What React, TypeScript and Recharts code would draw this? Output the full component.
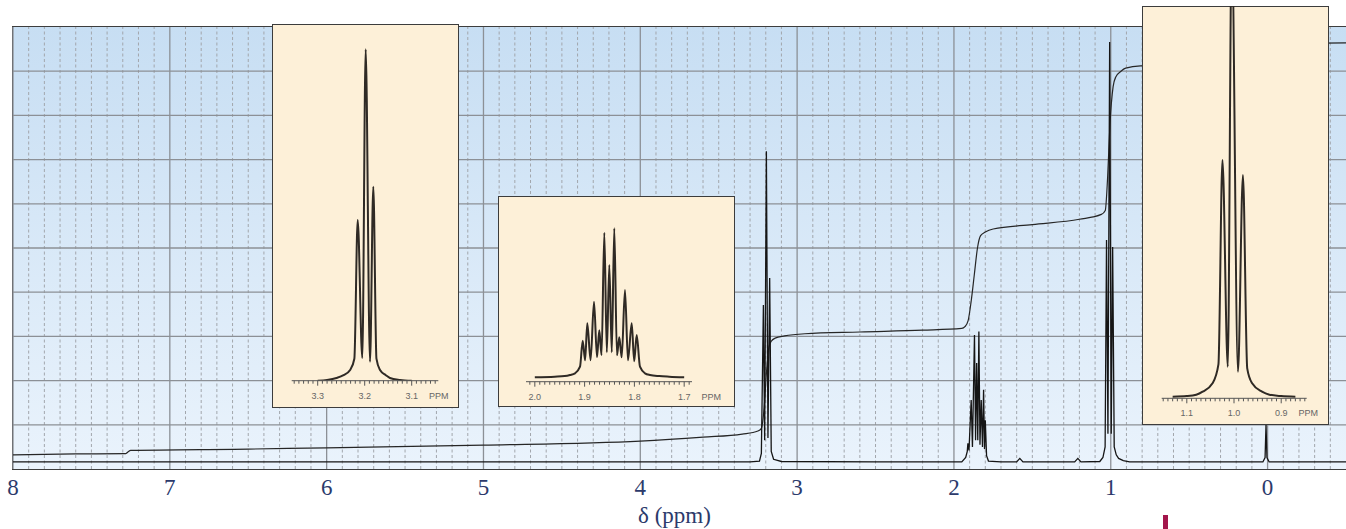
import { Label, Line, LineChart, ReferenceLine, XAxis, YAxis } from "recharts";

// main spectrum: [ppm, intensity], intensity 0..100 = plot height
const spectrum: [number, number][] = [
  [8.0, 1.6], [6.0, 1.6], [4.0, 1.6], [3.3, 1.6], [3.24, 1.8], [3.228, 3.5],
  [3.215, 37.1], [3.207, 6.5], [3.196, 71.9], [3.186, 7], [3.175, 43.2], [3.165, 4],
  [3.15, 2.2], [3.1, 1.7], [2.5, 1.6], [1.95, 1.6], [1.925, 2.6], [1.915, 4],
  [1.911, 5.8], [1.904, 4.2], [1.89, 15.6], [1.882, 5], [1.869, 30.3], [1.862, 6.5],
  [1.855, 24], [1.848, 6.5], [1.841, 31.1], [1.834, 5.5], [1.826, 15.6], [1.818, 5],
  [1.811, 17.9], [1.805, 4.5], [1.8, 11], [1.792, 3], [1.78, 1.8], [1.7, 1.6],
  [1.6, 1.6], [1.58, 2.4], [1.56, 1.6], [1.23, 1.6], [1.21, 2.4], [1.19, 1.6],
  [1.07, 1.7], [1.05, 2.6], [1.036, 5], [1.027, 51.8], [1.018, 8], [1.007, 96.6],
  [0.997, 8], [0.988, 50.2], [0.978, 5], [0.965, 3.2], [0.95, 2.4], [0.92, 1.9],
  [0.88, 1.6], [0.03, 1.6], [0.016, 2.6], [0.01, 10], [0.004, 2.6], [-0.01, 1.6],
  [-0.5, 1.6],
];

// integral trace
const integral: [number, number][] = [
  [8.0, 3.2], [7.6, 3.4], [7.28, 3.5], [7.265, 3.9], [7.25, 4.2], [6.5, 4.5],
  [6.0, 4.8], [5.0, 5.4], [4.0, 6.3], [3.6, 7.2], [3.35, 7.9], [3.25, 8.6],
  [3.228, 9.2], [3.21, 14], [3.195, 22], [3.18, 27.5], [3.165, 28.9], [3.14, 29.6],
  [3.08, 30.1], [2.95, 30.6], [2.6, 31.0], [2.2, 31.4], [1.95, 31.8], [1.93, 32.2],
  [1.91, 33.5], [1.89, 38], [1.87, 44], [1.85, 50], [1.83, 52.8], [1.8, 53.6],
  [1.75, 54.3], [1.5, 55.3], [1.2, 56.5], [1.06, 57.6], [1.035, 58.5], [1.02, 66],
  [1.005, 78], [0.985, 86.5], [0.968, 88.7], [0.935, 90], [0.905, 90.7], [0.81, 91.2],
  [0.3, 91.5], [0.03, 91.6], [0.0, 94], [-0.03, 96.2], [-0.5, 96.4],
];

// expanded multiplets (insets)
const triplet32: [number, number][] = [
  [3.3, 0], [3.28, 0.8], [3.26, 2.7], [3.245, 5.5], [3.231, 10.7], [3.222, 22],
  [3.2149, 160.7], [3.2051, 22.7], [3.1979, 331.4], [3.1887, 19], [3.1817, 194],
  [3.175, 22], [3.1674, 10.7], [3.155, 5.5], [3.1462, 2.7], [3.125, 0.8], [3.1, 0],
];

const sextet185: [number, number][] = [
  [2.0, 4.4], [1.96, 5.0], [1.94, 5.6], [1.9293, 6.7], [1.9193, 8.4], [1.9092, 15],
  [1.9038, 41], [1.899, 21.4], [1.8946, 58.4], [1.888, 21.4], [1.8811, 80],
  [1.8751, 24.4], [1.8705, 51.4], [1.866, 26.4], [1.8604, 149], [1.8554, 29.4],
  [1.8504, 116.7], [1.8454, 29.4], [1.8404, 153.4], [1.835, 26.4], [1.8303, 44.4],
  [1.8255, 24.4], [1.8189, 91.7], [1.8129, 21.4], [1.8054, 58.4], [1.8004, 20.4],
  [1.7954, 46.7], [1.7888, 15], [1.7787, 8.4], [1.7687, 6.7], [1.75, 5.6],
  [1.73, 5.0], [1.7, 4.4],
];

const triplet10: [number, number][] = [
  [1.13, 1.6], [1.1, 2.2], [1.08, 3.6], [1.0665, 6.6], [1.0455, 15], [1.033, 34],
  [1.0245, 238.3], [1.0132, 31.6], [1.0048, 460], [0.9916, 26.6], [0.9811, 223.3],
  [0.972, 30], [0.9616, 15], [0.9407, 6.6], [0.925, 3.6], [0.9, 2.2], [0.87, 1.6],
];

const mainTicks = [8, 7, 6, 5, 4, 3, 2, 1, 0];
const hLines = [10, 20, 30, 40, 50, 60, 70, 80, 90];
const minorLines: number[] = [];
for (let i = -4; i < 80; i++) if (i % 10 !== 0) minorLines.push(i / 10);

const toRows = (pts: [number, number][]) => pts.map(([ppm, v]) => ({ ppm, v }));

const SERIF = "'Liberation Serif', 'Times New Roman', serif";
const SANS = "'Liberation Sans', Arial, sans-serif";

function MainTick(props: any) {
  const { x, y, payload } = props;
  return (
    <text x={x} y={y + 26} textAnchor="middle" fontFamily={SERIF} fontSize={23} fill="#2c3a6b">
      {payload.value}
    </text>
  );
}

type InsetCfg = {
  data: [number, number][];
  domain: [number, number];
  majors: number[];
  yMax: number;
  box: { left: number; top: number; right: number; bottom: number };
  axis: { left: number; right: number; y: number };
  plotTop: number;
};

function Inset({ cfg }: { cfg: InsetCfg }) {
  const { box, axis } = cfg;
  const w = box.right - box.left;
  const h = box.bottom - box.top;
  const ticks: number[] = [];
  for (let i = Math.ceil(cfg.domain[0] * 100); i <= Math.floor(cfg.domain[1] * 100); i++) ticks.push(i / 100);
  const last = Math.min(...cfg.majors);
  const isMajor = (v: number) => cfg.majors.some((m) => Math.abs(m - v) < 1e-6);
  const renderTick = (p: any) => {
    const major = isMajor(p.payload.value);
    return (
      <g>
        <line x1={p.x} x2={p.x} y1={p.y} y2={p.y + (major ? 5 : 3)} stroke="#555" strokeWidth={1} />
        {major && (
          <text x={p.x} y={p.y + 18} textAnchor="middle" fontFamily={SANS} fontSize={9} fill="#666">
            {p.payload.value.toFixed(1)}
          </text>
        )}
        {major && Math.abs(p.payload.value - last) < 1e-6 && (
          <text x={p.x + 27} y={p.y + 18} textAnchor="middle" fontFamily={SANS} fontSize={9} fill="#666">
            PPM
          </text>
        )}
      </g>
    );
  };
  return (
    <>
      <div
        style={{
          position: "absolute",
          left: box.left,
          top: box.top,
          width: w,
          height: h,
          boxSizing: "border-box",
          background: "#fdf0d8",
          border: "1.5px solid #3c3c3c",
        }}
      />
      <div style={{ position: "absolute", left: box.left, top: box.top }}>
        <LineChart
          width={w}
          height={h}
          data={toRows(cfg.data)}
          margin={{ top: cfg.plotTop - box.top, left: axis.left - box.left, right: box.right - axis.right, bottom: 0 }}
        >
          <XAxis
            dataKey="ppm"
            type="number"
            domain={cfg.domain}
            reversed
            allowDataOverflow
            ticks={ticks}
            interval={0}
            height={box.bottom - axis.y}
            tickSize={0}
            tickMargin={0}
            tickLine={false}
            axisLine={{ stroke: "#555", strokeWidth: 1 }}
            tick={renderTick}
          />
          <YAxis hide type="number" domain={[0, cfg.yMax]} allowDataOverflow />
          <Line
            dataKey="v"
            type="monotone"
            stroke="#2f2a25"
            strokeWidth={2}
            dot={false}
            activeDot={false}
            isAnimationActive={false}
          />
        </LineChart>
      </div>
    </>
  );
}

const insets: InsetCfg[] = [
  {
    data: triplet32,
    domain: [3.0434, 3.3553],
    majors: [3.3, 3.2, 3.1],
    yMax: 340,
    box: { left: 272, top: 24, right: 459, bottom: 408 },
    axis: { left: 291.7, right: 438.3, y: 380.7 },
    plotTop: 40.7,
  },
  {
    data: sextet185,
    domain: [1.6843, 2.0177],
    majors: [2.0, 1.9, 1.8, 1.7],
    yMax: 170,
    box: { left: 498, top: 196, right: 735, bottom: 407 },
    axis: { left: 526, right: 692, y: 381.7 },
    plotTop: 211.7,
  },
  {
    data: triplet10,
    domain: [0.846, 1.1532],
    majors: [1.1, 1.0, 0.9],
    yMax: 392.3,
    box: { left: 1142, top: 6, right: 1329, bottom: 425 },
    axis: { left: 1161.7, right: 1306.7, y: 398.3 },
    plotTop: 6,
  },
];

export default function App() {
  return (
    <div style={{ position: "absolute", left: 0, top: 0, width: 1346, height: 529, overflow: "hidden", background: "#fff" }}>
      <div
        style={{
          position: "absolute",
          left: 12,
          top: 26,
          width: 1336,
          height: 444,
          boxSizing: "border-box",
          border: "1.5px solid #3d3d3d",
          background: "linear-gradient(to bottom, #c7def3, #eaf3fc)",
        }}
      />
      <div style={{ position: "absolute", left: 0, top: 0 }}>
        <LineChart width={1346} height={529} margin={{ top: 27, right: 0, bottom: 0, left: 13 }}>
          <XAxis
            dataKey="ppm"
            type="number"
            domain={[-0.5, 8]}
            reversed
            allowDataOverflow
            ticks={mainTicks}
            interval={0}
            height={60}
            tickSize={0}
            tickMargin={0}
            tickLine={false}
            axisLine={false}
            tick={<MainTick />}
          >
            <Label
              value="δ (ppm)"
              position="insideBottom"
              offset={6}
              dx={-5}
              style={{ fontFamily: SERIF, fontSize: 23, fill: "#2c3a6b" }}
            />
          </XAxis>
          <YAxis hide type="number" domain={[0, 100]} allowDataOverflow />
          {minorLines.map((v) => (
            <ReferenceLine key={"m" + v} x={v} stroke="#a2a6ac" strokeWidth={1} strokeDasharray="3 2.5" />
          ))}
          {mainTicks.map((v) => (
            <ReferenceLine key={"M" + v} x={v} stroke="#8c9096" strokeWidth={1.3} />
          ))}
          {hLines.map((v) => (
            <ReferenceLine key={"h" + v} y={v} stroke="#8c9096" strokeWidth={1.3} />
          ))}
          <Line
            data={toRows(integral)}
            dataKey="v"
            type="monotone"
            stroke="#262626"
            strokeWidth={1.2}
            dot={false}
            activeDot={false}
            isAnimationActive={false}
          />
          <Line
            data={toRows(spectrum)}
            dataKey="v"
            type="linear"
            stroke="#151515"
            strokeWidth={1.3}
            dot={false}
            activeDot={false}
            isAnimationActive={false}
          />
        </LineChart>
      </div>
      {insets.map((cfg, i) => (
        <Inset key={i} cfg={cfg} />
      ))}
      <div style={{ position: "absolute", left: 1163, top: 515, width: 5, height: 14, background: "#a3154b" }} />
    </div>
  );
}
